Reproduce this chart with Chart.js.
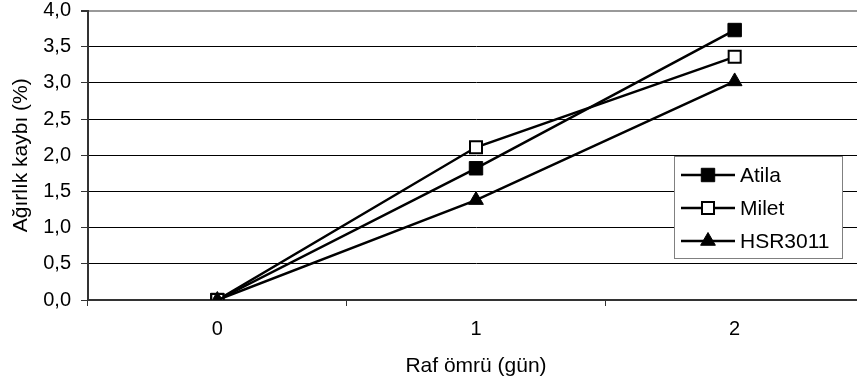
<!DOCTYPE html>
<html>
<head>
<meta charset="utf-8">
<title>Ağırlık kaybı</title>
<script src="https://cdn.jsdelivr.net/npm/chart.js"></script>
<style>
  html, body { margin: 0; padding: 0; background: #fff; overflow: hidden; }
  #wrap { width: 880px; height: 388px; }
</style>
</head>
<body>
<div id="wrap"><canvas id="chart" width="880" height="388"></canvas></div>
<script>
// data
const days = ['0', '1', '2'];
const atila = [0.0, 1.82, 3.73];
const milet = [0.0, 2.11, 3.36];
const hsr3011 = [0.0, 1.38, 3.02];

const FONT = 'Liberation Sans, Arial, sans-serif';

// legend drawn inside the plot area, Excel style
const boxLegend = {
  id: 'boxLegend',
  afterDraw(chart) {
    const ctx = chart.ctx;
    const x0 = 674, y0 = 156, w = 168, h = 102;
    ctx.save();
    ctx.fillStyle = '#fff';
    ctx.fillRect(x0, y0, w, h);
    ctx.strokeStyle = '#808080';
    ctx.lineWidth = 1;
    ctx.strokeRect(x0 + 0.5, y0 + 0.5, w, h);
    chart.data.datasets.forEach((ds, i) => {
      const y = y0 + 19 + i * 33;
      ctx.strokeStyle = '#000';
      ctx.lineWidth = 2.5;
      ctx.beginPath();
      ctx.moveTo(x0 + 7, y);
      ctx.lineTo(x0 + 61, y);
      ctx.stroke();
      ctx.fillStyle = ds.pointBackgroundColor;
      ctx.strokeStyle = ds.pointBorderColor;
      ctx.lineWidth = ds.pointBorderWidth;
      Chart.helpers.drawPoint(ctx, {
        pointStyle: ds.pointStyle,
        radius: ds.pointRadius,
        borderWidth: ds.pointBorderWidth
      }, x0 + 34, y);
      ctx.fillStyle = '#000';
      ctx.font = '21px ' + FONT;
      ctx.textBaseline = 'middle';
      ctx.textAlign = 'left';
      ctx.fillText(ds.label, x0 + 66, y + 1);
    });
    ctx.restore();
  }
};

new Chart(document.getElementById('chart'), {
  type: 'line',
  data: {
    labels: days,
    datasets: [
      { label: 'Atila', data: atila, order: 2, borderColor: '#000', borderWidth: 2.5,
        pointStyle: 'rect', pointRadius: 9.5, pointBackgroundColor: '#000',
        pointBorderColor: '#000', pointBorderWidth: 1 },
      { label: 'Milet', data: milet, order: 1, borderColor: '#000', borderWidth: 2.5,
        pointStyle: 'rect', pointRadius: 8.5, pointBackgroundColor: '#fff',
        pointBorderColor: '#000', pointBorderWidth: 2 },
      { label: 'HSR3011', data: hsr3011, order: 0, borderColor: '#000', borderWidth: 2.5,
        pointStyle: 'triangle', pointRadius: 8.5, pointBackgroundColor: '#000',
        pointBorderColor: '#000', pointBorderWidth: 1 }
    ]
  },
  options: {
    responsive: false,
    animation: false,
    layout: { padding: { left: 0, top: 10, right: 16, bottom: 0 } },
    plugins: { legend: { display: false }, tooltip: { enabled: false } },
    elements: { line: { tension: 0 } },
    scales: {
      x: {
        offset: true,
        grid: { offset: true, drawOnChartArea: false, tickLength: 6, color: '#333', lineWidth: 1 },
        border: { color: '#333', width: 2 },
        ticks: { color: '#000', font: { family: FONT, size: 20 }, padding: 11, maxRotation: 0 },
        title: { display: true, text: 'Raf ömrü (gün)', color: '#000',
                 font: { family: FONT, size: 21 }, padding: { top: 0, bottom: 9 } },
        afterFit(scale) {
          scale.height = 88;
          scale.paddingLeft = 0;
          scale.paddingRight = 0;
        }
      },
      y: {
        min: 0, max: 4,
        ticks: { stepSize: 0.5, color: '#000', font: { family: FONT, size: 20 }, padding: 10,
                 callback: v => v.toFixed(1).replace('.', ',') },
        grid: {
          color: c => c.tick && c.tick.value === 4 ? '#999' : '#000',
          lineWidth: c => c.tick && c.tick.value === 4 ? 2 : 1,
          tickColor: '#333', tickLength: 7
        },
        border: { color: '#333', width: 2 },
        title: { display: true, text: 'Ağırlık kaybı (%)', color: '#000',
                 font: { family: FONT, size: 21 }, padding: { top: 9, bottom: 0 } },
        afterFit(scale) {
          scale.width = 88;
          scale.paddingTop = 0;
          scale.paddingBottom = 0;
        }
      }
    }
  },
  plugins: [boxLegend]
});
</script>
</body>
</html>
